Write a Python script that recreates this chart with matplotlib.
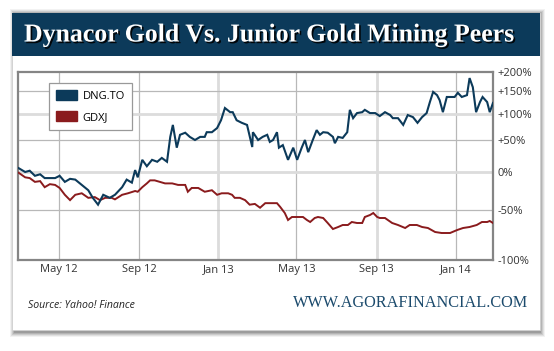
import numpy as np
import pandas as pd
import matplotlib
matplotlib.use('Agg')
import matplotlib.pyplot as plt
import matplotlib.dates as mdates
import matplotlib.patches as mpt
import matplotlib.patheffects as pe

# ── data (% change since start) ───────────────────────────────────────────────
dng_dates = ['2012-02-29', '2012-03-05', '2012-03-10', '2012-03-17', '2012-03-25', '2012-04-02',
             '2012-04-09', '2012-04-17', '2012-04-25', '2012-05-02', '2012-05-10', '2012-05-18',
             '2012-05-26', '2012-06-05', '2012-06-15', '2012-06-22', '2012-06-30', '2012-07-08',
             '2012-07-18', '2012-07-26', '2012-08-06', '2012-08-13', '2012-08-21', '2012-08-26',
             '2012-08-30', '2012-09-06', '2012-09-13', '2012-09-21', '2012-09-29', '2012-10-06',
             '2012-10-14', '2012-10-19', '2012-10-23', '2012-10-29', '2012-11-03', '2012-11-11',
             '2012-11-18', '2012-11-26', '2012-12-04', '2012-12-11', '2012-12-14', '2012-12-22',
             '2012-12-30', '2013-01-05', '2013-01-11', '2013-01-19', '2013-01-23', '2013-01-29',
             '2013-02-06', '2013-02-14', '2013-02-22', '2013-02-23', '2013-03-03', '2013-03-10',
             '2013-03-17', '2013-03-21', '2013-03-26', '2013-04-01', '2013-04-04', '2013-04-10',
             '2013-04-18', '2013-04-26', '2013-05-02', '2013-05-09', '2013-05-14', '2013-05-19',
             '2013-05-26', '2013-06-01', '2013-06-06', '2013-06-11', '2013-06-18', '2013-06-26',
             '2013-06-29', '2013-07-04', '2013-07-11', '2013-07-18', '2013-07-22', '2013-07-27',
             '2013-08-02', '2013-08-10', '2013-08-14', '2013-08-22', '2013-08-30', '2013-09-06',
             '2013-09-14', '2013-09-22', '2013-09-26', '2013-10-04', '2013-10-12', '2013-10-19',
             '2013-10-27', '2013-11-03', '2013-11-10', '2013-11-17', '2013-11-22', '2013-11-27',
             '2013-12-03', '2013-12-07', '2013-12-12', '2013-12-18', '2013-12-26', '2013-12-30',
             '2014-01-04', '2014-01-10', '2014-01-18', '2014-01-22', '2014-01-27', '2014-02-01',
             '2014-02-07', '2014-02-11', '2014-02-18', '2014-02-22', '2014-02-27']
dng_vals = [6, 3, 0, 2, -5, -3,
            -8, -8, -8, -5, -13, -9,
            -10, -17, -24, -34, -43, -30,
            -34, -30, -20, -10, -14, 3,
            -7, 19, 9, 19, 16, 22,
            16, 56, 79, 38, 60, 64,
            56, 50, 56, 56, 65, 65,
            73, 88, 113, 104, 104, 88,
            83, 79, 39, 65, 50, 56,
            60, 47, 50, 65, 38, 42,
            19, 38, 19, 38, 50, 31,
            50, 69, 60, 65, 64, 56,
            45, 56, 54, 65, 109, 92,
            102, 104, 109, 102, 102, 96,
            104, 98, 92, 92, 79, 98,
            94, 83, 94, 102, 126, 148,
            141, 130, 104, 137, 137, 137,
            146, 137, 141, 184, 160, 104,
            126, 137, 126, 104, 124]

gdxj_dates = ['2012-02-29', '2012-03-10', '2012-03-17', '2012-03-25', '2012-04-02', '2012-04-09',
              '2012-04-17', '2012-04-25', '2012-05-02', '2012-05-10', '2012-05-18', '2012-05-26',
              '2012-06-05', '2012-06-15', '2012-06-25', '2012-07-03', '2012-07-11', '2012-07-21',
              '2012-07-26', '2012-08-06', '2012-08-15', '2012-08-26', '2012-08-30', '2012-09-06',
              '2012-09-13', '2012-09-18', '2012-09-25', '2012-10-03', '2012-10-11', '2012-10-22',
              '2012-10-31', '2012-11-11', '2012-11-15', '2012-11-21', '2012-12-01', '2012-12-11',
              '2012-12-22', '2012-12-30', '2013-01-06', '2013-01-16', '2013-01-22', '2013-01-26',
              '2013-02-03', '2013-02-11', '2013-02-18', '2013-02-26', '2013-03-06', '2013-03-14',
              '2013-03-24', '2013-04-01', '2013-04-06', '2013-04-13', '2013-04-18', '2013-04-24',
              '2013-05-02', '2013-05-11', '2013-05-17', '2013-05-22', '2013-05-29', '2013-06-03',
              '2013-06-11', '2013-06-18', '2013-06-26', '2013-07-04', '2013-07-11', '2013-07-19',
              '2013-07-25', '2013-08-02', '2013-08-10', '2013-08-14', '2013-08-22', '2013-08-27',
              '2013-09-02', '2013-09-06', '2013-09-14', '2013-09-25', '2013-10-04', '2013-10-15',
              '2013-10-22', '2013-11-02', '2013-11-10', '2013-11-19', '2013-11-30', '2013-12-10',
              '2013-12-23', '2014-01-03', '2014-01-12', '2014-01-22', '2014-02-02', '2014-02-10',
              '2014-02-18', '2014-02-22', '2014-02-27']
gdxj_vals = [-1, -7, -8, -13, -12, -20,
             -16, -17, -21, -30, -37, -30,
             -28, -34, -33, -37, -34, -34,
             -36, -30, -28, -25, -26, -20,
             -15, -11, -11, -13, -15, -15,
             -17, -17, -26, -21, -21, -26,
             -24, -30, -28, -28, -30, -34,
             -34, -37, -43, -42, -47, -41,
             -41, -41, -46, -53, -60, -57,
             -57, -57, -60, -62, -58, -57,
             -58, -63, -69, -67, -65, -65,
             -62, -63, -63, -57, -55, -53,
             -57, -58, -58, -63, -65, -68,
             -65, -65, -67, -68, -72, -73,
             -73, -70, -68, -67, -65, -62,
             -62, -61, -63]

x_ticks = ['2012-05-01', '2012-09-01', '2013-01-01', '2013-05-01', '2013-09-01', '2014-01-01']
y_ticks = [-100, -50, 0, 50, 100, 150, 200]
y_labels = ['-100%', '-50%', '0%', '+50%', '+100%', '+150%', '+200%']

# non-linear vertical scale of the source chart (pixel height of each tick)
Y_PIX = [0, 50, 88, 120, 146, 169, 188]

NAVY = '#0c3a5a'
RED = '#8a1b1d'
W, H = 554, 351

def fx(px):
    return px / W

def fy(py):
    return 1 - py / H

# ── canvas ────────────────────────────────────────────────────────────────────
fig = plt.figure(figsize=(W / 100, H / 100), dpi=100, facecolor='white')

# card shadow + card
for i, a in enumerate([0.05, 0.07, 0.09, 0.11, 0.13]):
    off = 5 - i
    fig.patches.append(mpt.Rectangle((fx(12 - off + 3), fy(330 + off + 2)),
                                     fx(528 + 2 * off - 3), (318 + 2 * off) / H,
                                     transform=fig.transFigure, facecolor='black',
                                     edgecolor='none', alpha=a, zorder=0))
fig.patches.append(mpt.Rectangle((fx(12), fy(330)), fx(528), 317 / H,
                                 transform=fig.transFigure, facecolor='white',
                                 edgecolor='#d0d0d0', lw=0.6, zorder=1))
# title bar
fig.patches.append(mpt.Rectangle((fx(12), fy(56)), fx(528), 43 / H,
                                 transform=fig.transFigure, facecolor=NAVY,
                                 edgecolor='none', zorder=2))
fig.text(fx(24), fy(35), 'Dynacor Gold Vs. Junior Gold Mining Peers',
         family='Liberation Serif', fontsize=18.6, fontweight='bold', color='white',
         ha='left', va='center', zorder=3,
         path_effects=[pe.withSimplePatchShadow(offset=(1.2, -1.2), shadow_rgbFace='black', alpha=0.9)])

# ── chart ─────────────────────────────────────────────────────────────────────
ax = fig.add_axes([fx(18), fy(260), fx(475), 188 / H], zorder=5)

fwd = lambda v: np.interp(v, y_ticks, Y_PIX)
inv = lambda p: np.interp(p, Y_PIX, y_ticks)
ax.set_yscale('function', functions=(fwd, inv))

d1 = pd.to_datetime(dng_dates)
d2 = pd.to_datetime(gdxj_dates)
ax.plot(d1, dng_vals, color=NAVY, lw=1.5, zorder=4, solid_joinstyle='miter')
ax.plot(d2, gdxj_vals, color=RED, lw=1.4, zorder=3, solid_joinstyle='miter')

ax.set_xlim(pd.Timestamp('2012-02-28'), pd.Timestamp('2014-02-27'))
ax.set_ylim(-100, 200)

xt = pd.to_datetime(x_ticks)
ax.set_xticks(xt)
ax.xaxis.set_major_formatter(mdates.DateFormatter('%b %y'))
ax.set_yticks(y_ticks)
ax.set_yticklabels(y_labels)
ax.yaxis.tick_right()
ax.tick_params(axis='both', length=0, labelsize=8, colors='#333333')
ax.tick_params(axis='y', pad=3)
ax.tick_params(axis='x', pad=3)
for lab in ax.get_xticklabels() + ax.get_yticklabels():
    lab.set_family('Open Sans')

# grid lines (some render soft & wide in the source)
for t in xt:
    wide = t in (pd.Timestamp('2013-01-01'), pd.Timestamp('2013-09-01'))
    ax.axvline(t, color='#dcdcdc' if wide else '#b8b8b8', lw=2.0 if wide else 0.9, zorder=1)
for v in y_ticks[1:-1]:
    wide = v in (0, 100)
    ax.axhline(v, color='#dcdcdc' if wide else '#b8b8b8', lw=2.0 if wide else 0.9, zorder=1)

for s in ax.spines.values():
    s.set_color('#858585')
    s.set_linewidth(1.6)

handles = [mpt.Patch(facecolor=NAVY, edgecolor=NAVY, label='DNG.TO'),
           mpt.Patch(facecolor=RED, edgecolor=RED, label='GDXJ')]
leg = ax.legend(handles=handles, loc='upper left', bbox_to_anchor=(0.065, 0.941),
                borderaxespad=0, fancybox=False, framealpha=1, edgecolor='#999999',
                prop={'family': 'Open Sans', 'size': 8},
                handlelength=1.9, handleheight=1.1, borderpad=0.6, labelspacing=0.8,
                handletextpad=0.55)
leg.get_frame().set_linewidth(0.9)

# ── footer ────────────────────────────────────────────────────────────────────
fig.text(fx(28), fy(305), 'Source: Yahoo! Finance', family='Open Sans', style='italic',
         fontsize=7.6, color='#222222', ha='left', va='center', zorder=3)
fig.text(fx(528), fy(303), 'WWW.AGORAFINANCIAL.COM', family='Liberation Serif',
         fontsize=11.7, color='#1b4a6c', ha='right', va='center', zorder=3)

fig.savefig('out.png', dpi=100, facecolor='white')
